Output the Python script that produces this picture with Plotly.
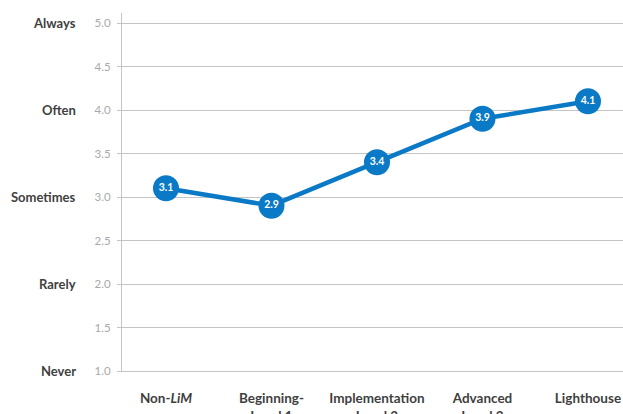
import plotly.graph_objects as go

# Stage of the programme and the mean frequency score at each stage
stages = ["Non-<i>LiM</i>", "Beginning-<br>Level 1", "Implementation<br>Level 2",
          "Advanced<br>Level 3", "Lighthouse"]
scores = [3.1, 2.9, 3.4, 3.9, 4.1]
score_labels = ["3.1", "2.9", "3.4", "3.9", "4.1"]

# Frequency scale
scale_ticks = [1.0, 1.5, 2.0, 2.5, 3.0, 3.5, 4.0, 4.5, 5.0]
freq_values = [5.0, 4.0, 3.0, 2.0, 1.0]
freq_names = ["Always", "Often", "Sometimes", "Rarely", "Never"]

BLUE = "#0a79c6"
GRID = "#c4c4c4"
FONT = "Lato, 'Open Sans', sans-serif"

fig = go.Figure(go.Scatter(
    x=stages, y=scores,
    mode="lines+markers+text",
    line=dict(color=BLUE, width=4.5),
    marker=dict(size=26, color=BLUE, line=dict(width=0)),
    text=score_labels,
    textposition="middle center",
    textfont=dict(color="white", size=10.5, family=FONT, weight="bold"),
    cliponaxis=False,
    hoverinfo="skip",
))

for v, name in zip(freq_values, freq_names):
    fig.add_annotation(
        x=-0.088, xref="paper", y=v, yref="y",
        text=name, showarrow=False, xanchor="right", yanchor="middle",
        font=dict(family=FONT, size=13, color="#3f3f3f", weight="bold"),
    )

fig.update_layout(
    width=623, height=414,
    margin=dict(l=122, r=0, t=13, b=43),
    paper_bgcolor="white", plot_bgcolor="white",
    showlegend=False,
    font=dict(family=FONT),
    xaxis=dict(
        type="category", range=[-0.417, 4.332],
        showgrid=False, zeroline=False,
        showline=True, linecolor=GRID, linewidth=1.2,
        ticks="", ticklabelstandoff=15, automargin=False,
        tickfont=dict(family=FONT, size=13.5, color="#3f3f3f", weight="bold"),
    ),
    yaxis=dict(
        range=[1.0, 5.115],
        tickvals=scale_ticks, tickformat=".1f",
        showgrid=True, gridcolor=GRID, gridwidth=1.2,
        zeroline=False,
        showline=True, linecolor=GRID, linewidth=1.2,
        ticks="outside", ticklen=4, tickcolor=GRID,
        ticklabelstandoff=4, automargin=False,
        tickfont=dict(family=FONT, size=11.5, color="#a9a9a9"),
    ),
)

fig.write_html("out.html")
